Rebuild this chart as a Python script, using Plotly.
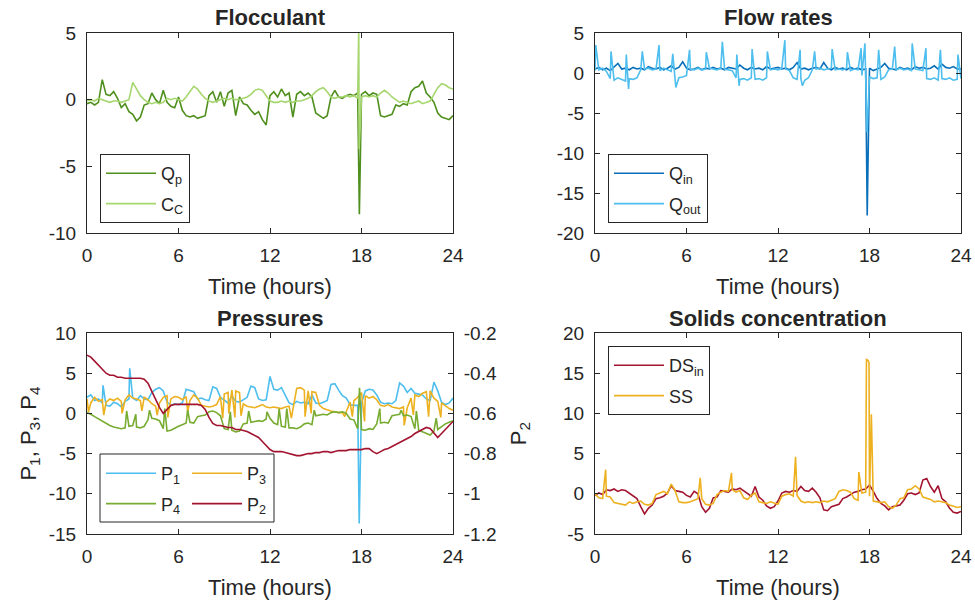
import plotly.graph_objects as go

# ---------------- data ----------------
STEP_H = 0.25
N_PTS = 97
time_h = [i * STEP_H for i in range(N_PTS)]

# Flocculant
qp = [-0.3, -0.2, -0.4, -0.2, 1.5, 0.4, 0.3, 0.6,
      0.1, -0.6, -0.3, -0.9, -1.1, -1.6, -1.3, -0.4,
      -0.3, 0.5, 0.0, -0.3, 0.7, -0.2, -0.5, -0.6,
      0.2, -0.8, -1.2, -1.3, -1.2, -1.4, -1.3, -1.2,
      0.3, 0.6, -0.2, 0.6, -0.5, 0.5, 0.7, -1.2,
      0.2, -0.3, -0.4, -0.8, -1.1, -0.9, -1.5, -1.9,
      0.3, 0.6, 0.2, 0.8, 0.3, 0.5, -1.3, 0.4,
      0.6, 0.3, 0.5, 0.2, -1.0, -1.2, -1.4, -1.2,
      0.2, 0.7, 0.2, 0.1, 0.3, 0.4, 0.3, 0.5,
      0.4, 0.6, 0.3, 0.5, 0.4, -1.2, -1.3, -1.2,
      -1.1, -0.4, -0.5, -0.3, -0.4, 0.6, 0.9, 1.0,
      1.4, 0.5, 0.2, -0.2, -1.0, -1.3, -1.4, -1.5,
      -1.2]
qp_spike_t = [17.86]
qp_spike_v = [-8.6]

cc = [-0.1, 0.0, -0.1, 0.1, 0.0, -0.1, -0.2, -0.1,
      -0.1, -0.2, -0.1, 0.0, 1.3, 0.8, 0.3, 0.0,
      -0.2, -0.3, -0.2, -0.3, -0.2, 0.1, 0.0, 0.1,
      0.0, -0.1, 0.2, 0.6, 1.0, 0.8, 0.4, 0.1,
      -0.1, -0.2, -0.1, 0.0, 0.1, 0.0, 0.1, 0.0,
      0.0, 0.1, 0.2, 0.4, 0.7, 0.8, 0.7, 0.3,
      -0.1, -0.2, -0.2, -0.1, -0.2, -0.1, -0.2, -0.1,
      -0.1, 0.0, 0.1, 0.3, 0.6, 0.8, 0.9, 0.6,
      0.2, 0.1, 0.2, 0.2, 0.3, 0.2, 0.3, 0.1,
      0.2, 0.3, 0.2, 0.3, 0.2, 0.5, 0.7, 0.5,
      0.2, 0.0, -0.2, -0.1, -0.2, -0.3, -0.2, -0.1,
      -0.3, -0.2, -0.1, 0.4, 0.9, 1.2, 1.1, 0.9,
      0.8]
cc_spike_t = [17.82, 17.845]
cc_spike_v = [5.5, -3.7]

# Flow rates
qin = [0.5, 0.7, 0.4, 0.6, 0.3, 0.8, 1.2, 0.5,
       0.6, 0.4, 0.7, 0.5, 0.6, 0.4, 0.8, 0.6,
       0.5, 0.7, 0.4, 0.6, 0.9, 0.5, 0.7, 1.4,
       0.6, 0.4, 0.5, 0.7, 0.4, 0.6, 0.5, 0.7,
       0.5, 0.6, 0.4, 0.7, 0.6, 0.5, 1.0, 0.6,
       0.4, 0.7, 0.5, 0.6, 0.4, 0.8, 0.5, 0.6,
       0.7, 0.5, 0.6, 0.4, 0.7, 1.3, 0.5, 0.6,
       0.4, 0.6, 0.7, 0.5, 1.3, 0.6, 0.4, 0.7,
       0.5, 0.6, 0.4, 0.7, 0.5, 0.6, 0.4, 0.5,
       0.6, 0.3, 0.5, 0.7, 1.2, 0.6, 0.5, 0.4,
       0.7, 0.5, 0.6, 0.4, 0.8, 0.6, 0.7, 0.5,
       0.6, 0.9, 0.5, 1.1, 0.7, 0.6, 0.8, 0.5,
       0.5]
qin_spike_t = [17.85]
qin_spike_v = [-17.8]

qout = [0.3, 0.4, 0.6, 0.2, -0.7, -0.9, -0.6, -0.8,
        -1.0, -0.7, -0.8, -0.6, 0.4, 0.5, 0.6, 0.4,
        0.5, 0.3, 0.6, 0.4, 0.2, -0.4, -0.6, -0.5,
        -0.3, 0.5, 0.4, 0.6, 0.4, 0.5, 0.6, 0.5,
        0.4, 0.6, 0.5, 0.4, 0.3, -0.6, -0.8, -0.7,
        -0.9, -0.6, -0.8, -0.7, -0.9, -0.6, 0.4, 0.5,
        0.4, 0.6, 0.5, 0.3, -0.6, -0.8, -0.7, -0.9,
        -0.6, 0.4, 0.5, 0.6, 0.4, 0.5, 0.6, 0.4,
        0.5, 0.4, 0.6, 0.3, 0.5, 0.4, -0.3, -0.6,
        -0.5, -0.7, -0.6, -0.8, -0.5, 0.4, 0.5, 0.4,
        0.6, 0.4, 0.5, 0.3, 0.5, 0.4, 0.3, -0.7,
        -0.8, -0.6, -0.9, -0.7, -0.8, -0.6, -0.9, -0.8,
        -0.7]
qout_spike_t = [0.05, 1.05, 2.05, 2.2, 3.1, 4.2, 5.1, 5.3, 6.2, 7.3,
                8.35, 9.3, 9.45, 10.3, 11.3, 12.45, 13.45, 13.6, 14.4, 15.55,
                16.55, 17.45, 17.7, 17.84, 18.6, 19.65, 20.8, 21.7, 22.65, 23.8]
qout_spike_v = [3.5, 2.7, 2.3, -2.0, 2.7, 3.5, 2.4, -1.8, 2.9, 2.6,
                3.9, 2.3, -1.6, 3.0, 2.7, 4.1, 2.9, -1.6, 2.7, 3.0,
                2.6, 3.1, 3.7, -7.4, 2.9, 3.3, 3.7, 3.1, 2.9, 2.3]

# Pressures
p1 = [2.0, 2.3, 1.6, 1.8, 1.3, 1.0, 0.9, 1.4,
      1.2, 0.8, 1.5, 1.8, 1.9, 1.6, 2.2, 1.8,
      1.7, 2.6, 3.0, 3.2, 2.8, 1.4, 1.0, 1.2,
      1.1, 1.3, 3.0, 2.8, 2.7, 1.8, 1.9, 1.7,
      1.6, 3.3, 3.1, 2.0, 1.6, 1.3, 2.2, 1.5,
      1.4, 1.7, 2.0, 3.4, 3.2, 1.8, 1.6, 1.7,
      4.6, 3.0, 2.9, 3.2, 2.2, 1.3, 1.1, 1.5,
      1.3, 1.4, 1.2, 2.3, 1.3, 1.2, 1.4, 1.6,
      3.6, 3.7, 2.9, 2.2, 1.9, 1.1, 1.0, 1.0,
      1.3, 2.8, 3.0, 2.9, 2.3, 1.4, 1.2, 1.3,
      1.2, 1.6, 3.8, 3.4, 2.6, 3.1, 2.5, 2.4,
      2.3, 1.8, 1.6, 3.9, 2.8, 1.4, 1.1, 1.3,
      1.9]
p1_spike_t = [1.05, 2.8, 17.85]
p1_spike_v = [3.5, 5.6, -13.7]

p3 = [1.8, 1.3, 2.0, 1.5, 1.7, 1.4, 1.8, 1.6,
      1.9, 1.5, 1.7, 2.3, 1.9, 1.8, 1.6, 2.0,
      1.7, 1.2, 0.9, 1.3, 2.0, 2.2, 1.8, 2.1,
      2.0, 1.7, 2.1, 1.6, 2.3, 1.9, 1.0, 0.9,
      0.8, 0.9, 1.1, 2.1, 2.4, 2.6, 2.9, 2.8,
      2.6, 1.2, 0.9, 0.8, 0.7, 0.9, 1.1, 0.8,
      0.7, 0.8, 0.7, 0.6, 0.8, 0.9, 0.6, 3.1,
      3.2, 2.9, 2.8, 2.7, 2.6, 1.0, 0.6, 0.4,
      0.3, 0.2, 0.1, 0.1, 0.2, 1.4, 1.6, 2.0,
      2.6, 2.2, 1.9, 2.1, 1.7, 1.0, 0.9, 1.1,
      0.8, 0.7, 0.6, 0.8, 0.7, 1.9, 2.3, 2.1,
      2.5, 2.7, 2.8, 1.9, 1.5, 1.3, 0.9, 0.6,
      0.4]
p3_spike_t = [0.1, 1.1, 2.3, 3.6, 4.6, 5.3, 6.6, 8.9, 9.3, 9.7, 10.1,
              13.4, 14.3, 14.7, 16.9, 17.4, 18.2, 20.8, 21.4, 22.4, 23.2]
p3_spike_v = [0.2, -0.2, 0.0, 0.3, -0.2, -0.5, 0.2, -0.6, 0.0, -0.5, -0.3,
              -0.6, -0.4, 0.0, -0.4, -0.4, -1.0, -1.5, -0.2, -0.4, -0.5]

p4 = [0.1, -0.1, -0.4, -0.7, -1.0, -1.3, -1.5, -1.7,
      -1.8, -1.9, -1.8, -1.6, -1.5, -1.7, -1.8, -1.6,
      -0.8, -0.6, -0.7, -0.9, -1.9, -2.2, -2.1, -1.8,
      -1.6, -1.4, -1.2, -1.1, -1.2, -0.4, -0.3, -0.2,
      0.2, 0.3, 0.1, -0.3, -1.9, -2.0, -2.1, -2.3,
      -2.2, -1.3, -1.2, -1.1, -1.0, -0.9, -1.0, -0.7,
      -0.6, -1.2, -1.4, -1.6, -1.7, -1.8, -1.8, -1.9,
      -1.7, -1.3, -1.2, -1.4, -0.3, -0.2, -0.1, -0.2,
      0.1, 0.2, 0.1, 0.2, 0.0, -0.7, -0.8, -1.9,
      -2.0, -2.1, -1.9, -2.0, -1.3, -1.2, -1.1, -1.2,
      -0.3, -0.2, -0.1, -0.3, -0.2, -0.4, -1.9, -2.1,
      -2.3, -2.5, -2.7, -2.2, -2.0, -1.6, -1.3, -1.1,
      -0.9]
p4_spike_t = [2.6, 3.2, 4.1, 5.1, 6.6, 9.4, 10.6, 11.8, 12.6, 13.1,
              14.9, 17.87, 19.2, 20.6, 21.6, 22.9]
p4_spike_v = [0.3, -0.1, 0.4, 0.6, 0.4, 0.2, 0.3, 0.2, 0.6, 0.6,
              0.4, 3.2, 0.6, 0.4, 0.3, -0.6]

p2 = [-0.31, -0.32, -0.34, -0.36, -0.38, -0.40, -0.41, -0.41,
      -0.42, -0.42, -0.425, -0.425, -0.425, -0.425, -0.425, -0.43,
      -0.45, -0.49, -0.53, -0.57, -0.60, -0.58, -0.56, -0.555,
      -0.555, -0.555, -0.555, -0.555, -0.555, -0.555, -0.56, -0.58,
      -0.62, -0.65, -0.66, -0.66, -0.665, -0.67, -0.67, -0.68,
      -0.68, -0.685, -0.69, -0.70, -0.71, -0.72, -0.74, -0.76,
      -0.78, -0.79, -0.79, -0.79, -0.795, -0.80, -0.805, -0.81,
      -0.81, -0.805, -0.80, -0.80, -0.795, -0.795, -0.79, -0.79,
      -0.795, -0.79, -0.785, -0.785, -0.785, -0.78, -0.78, -0.78,
      -0.78, -0.775, -0.775, -0.79, -0.80, -0.79, -0.78, -0.775,
      -0.765, -0.755, -0.745, -0.735, -0.725, -0.715, -0.70, -0.69,
      -0.68, -0.67, -0.675, -0.70, -0.72, -0.70, -0.68, -0.66,
      -0.64]

# Solids concentration
ds_in = [-0.2, 0.1, -0.1, 0.5, 0.4, 0.6, 0.3, 0.5,
         0.4, 0.1, -0.2, -0.6, -1.6, -2.5, -1.8, -1.4,
         -0.6, -0.5, -0.3, 0.1, 1.0, 0.4, 0.3, 0.2,
         -0.2, -0.4, 0.3, 0.0, -1.6, -2.3, -1.8, -0.5,
         -0.4, 0.4, 0.3, 0.2, 0.6, 0.5, 0.7, 0.4,
         0.1, -0.3, 0.9, -0.4, -0.8, -1.5, -1.8, -1.6,
         -0.9, 0.1, 0.3, 0.2, 0.4, 0.3, 0.9, 0.4,
         0.3, 0.7, 0.2, -0.5, -2.0, -2.1, -1.6, -1.4,
         -1.3, -0.6, -0.4, -0.1, 0.2, 0.3, 0.5, 0.6,
         1.1, 0.3, -0.6, -1.2, -1.5, -2.0, -1.6, -1.5,
         -1.4, -0.8, 0.0, 0.1, -0.1, 0.1, 1.7, 1.9,
         0.9, 0.2, 1.0, -0.6, -1.0, -1.8, -2.3, -2.4,
         -2.2]

ss = [0.0, -0.5, -0.6, -0.3, -0.4, -1.1, -1.2, -1.3,
      -1.4, -1.0, -1.2, -1.0, -0.9, -1.3, -1.4, -1.2,
      -0.1, 0.1, 0.3, 0.0, 1.2, 0.4, -1.0, -1.1,
      -1.1, -1.0, -0.8, -0.6, -0.6, -1.3, -1.4, -1.2,
      -0.1, 0.2, 0.4, 0.3, 0.5, 0.2, 0.4, -0.5,
      -0.7, -0.2, 0.1, -1.0, -1.1, -1.2, -1.0, -1.2,
      -1.3, -0.3, -0.1, 0.0, -0.3, -0.2, -0.9, -1.1,
      -1.0, -1.1, -1.0, -1.1, -0.9, -1.0, -0.8, -0.6,
      0.3, 0.5, 0.4, 0.2, -0.6, -0.8, 0.1, 0.2,
      -0.3, -0.9, -1.0, -1.1, -1.0, -1.6, -1.8, -1.4,
      -0.6, -0.5, 0.5, 0.6, 1.0, 0.6, -0.4, -0.6,
      -0.7, -1.0, -0.9, -1.0, -1.1, -1.4, -1.6, -1.7,
      -1.6]
ss_spike_t = [0.7, 6.9, 8.95, 13.15, 17.3, 17.8, 17.9, 17.97, 18.12]
ss_spike_v = [3.0, 2.0, 2.6, 4.6, 2.7, 16.7, 16.6, 16.3, 9.9]

x_ticks = [0, 6, 12, 18, 24]
x_tick_text = ["0", "6", "12", "18", "24"]

# ---------------- helpers ----------------
def with_spikes(base, st=(), sv=()):
    pts = sorted(list(zip(time_h, base)) + list(zip(st, sv)), key=lambda p: p[0])
    return [p[0] for p in pts], [p[1] for p in pts]

FONT = "Liberation Sans, Arial, Helvetica, sans-serif"
INK = "#262626"
W, H = 975, 602

C_QP = "#4E8F1D"
C_CC = "#A6D66E"
C_QIN = "#0A6FBA"
C_QOUT = "#4DBEEE"
C_P1 = "#4DBEEE"
C_P3 = "#EDB120"
C_P4 = "#77AC30"
C_P2 = "#A2142F"
C_DS = "#A2142F"
C_SS = "#EDB120"

LW = 1.6

fig = go.Figure()

def add(series_t, series_v, name, color, xa, ya, legend):
    fig.add_trace(go.Scatter(x=series_t, y=series_v, name=name, mode="lines",
                             line=dict(color=color, width=LW), legendgroup=name,
                             xaxis=xa, yaxis=ya, legend=legend))

x, y = with_spikes(qp, qp_spike_t, qp_spike_v)
add(x, y, "Q<sub>p</sub>", C_QP, "x", "y", "legend")
x, y = with_spikes(cc, cc_spike_t, cc_spike_v)
add(x, y, "C<sub>C</sub>", C_CC, "x", "y", "legend")

x, y = with_spikes(qin, qin_spike_t, qin_spike_v)
add(x, y, "Q<sub>in</sub>", C_QIN, "x2", "y2", "legend2")
x, y = with_spikes(qout, qout_spike_t, qout_spike_v)
add(x, y, "Q<sub>out</sub>", C_QOUT, "x2", "y2", "legend2")

x, y = with_spikes(p1, p1_spike_t, p1_spike_v)
add(x, y, "P<sub>1</sub>", C_P1, "x3", "y3", "legend3")
x, y = with_spikes(p3, p3_spike_t, p3_spike_v)
add(x, y, "P<sub>3</sub>", C_P3, "x3", "y3", "legend4")
x, y = with_spikes(p4, p4_spike_t, p4_spike_v)
add(x, y, "P<sub>4</sub>", C_P4, "x3", "y3", "legend3")
x, y = with_spikes(p2)
add(x, y, "P<sub>2</sub>", C_P2, "x3", "y5", "legend4")

x, y = with_spikes(ds_in)
add(x, y, "DS<sub>in</sub>", C_DS, "x4", "y4", "legend5")
x, y = with_spikes(ss, ss_spike_t, ss_spike_v)
add(x, y, "SS", C_SS, "x4", "y4", "legend5")

# ---------------- layout ----------------
def px_x(v):
    return v / W

def px_y(v):
    return 1 - v / H

dom_x_left = [px_x(87), px_x(453)]
dom_x_right = [px_x(595), px_x(961)]
dom_y_top = [px_y(233), px_y(33)]
dom_y_bot = [px_y(534), px_y(333)]

tick_font = dict(family=FONT, size=19, color=INK)
title_font = dict(family=FONT, size=22, color=INK)

def xaxis(domain, anchor):
    return dict(domain=domain, anchor=anchor, range=[0, 24], tickvals=x_ticks,
                ticktext=x_tick_text, ticks="inside", ticklen=5, tickcolor=INK,
                showline=True, linecolor=INK, linewidth=1, mirror="ticks",
                showgrid=False, zeroline=False, tickfont=tick_font,
                ticklabelstandoff=5, automargin=False,
                title=dict(text="Time (hours)", font=title_font, standoff=13))

def yaxis(domain, anchor, rng, vals, mirror="ticks"):
    return dict(domain=domain, anchor=anchor, range=rng, tickvals=vals,
                ticktext=[str(v) for v in vals], ticks="inside", ticklen=5,
                tickcolor=INK, showline=True, linecolor=INK, linewidth=1,
                mirror=mirror, showgrid=False, zeroline=False, tickfont=tick_font,
                ticklabelstandoff=6, automargin=False)

legend_common = dict(bgcolor="white", bordercolor=INK, borderwidth=1,
                     font=dict(family=FONT, size=18, color=INK),
                     xanchor="left", yanchor="top", itemwidth=50,
                     tracegroupgap=4)

p2_ticks = [-0.2, -0.4, -0.6, -0.8, -1.0, -1.2]
p2_tick_text = ["-0.2", "-0.4", "-0.6", "-0.8", "-1", "-1.2"]

layout = dict(
    template="none",
    width=W, height=H, margin=dict(l=0, r=0, t=0, b=0, autoexpand=False),
    paper_bgcolor="white", plot_bgcolor="white",
    font=dict(family=FONT, color=INK),
    showlegend=True,
    xaxis=xaxis(dom_x_left, "y"),
    yaxis=yaxis(dom_y_top, "x", [-10, 5], [5, 0, -5, -10]),
    xaxis2=xaxis(dom_x_right, "y2"),
    yaxis2=yaxis(dom_y_top, "x2", [-20, 5], [5, 0, -5, -10, -15, -20]),
    xaxis3=xaxis(dom_x_left, "y3"),
    yaxis3=dict(yaxis(dom_y_bot, "x3", [-15, 10], [10, 5, 0, -5, -10, -15], mirror=True),
                title=dict(text="P<sub>1</sub>, P<sub>3</sub>, P<sub>4</sub>",
                           font=title_font, standoff=6)),
    yaxis5=dict(overlaying="y3", anchor="x3", side="right", range=[-1.2, -0.2],
                tickvals=p2_ticks, ticktext=p2_tick_text, ticks="inside", ticklen=5,
                tickcolor=INK, showline=True, linecolor=INK, linewidth=1,
                showgrid=False, zeroline=False, tickfont=tick_font,
                ticklabelstandoff=6, automargin=False,
                title=dict(text="P<sub>2</sub>", font=title_font, standoff=14)),
    xaxis4=xaxis(dom_x_right, "y4"),
    yaxis4=yaxis(dom_y_bot, "x4", [-5, 20], [20, 15, 10, 5, 0, -5]),
    legend=dict(legend_common, x=px_x(100), y=px_y(154)),
    legend2=dict(legend_common, x=px_x(608), y=px_y(154)),
    legend3=dict(legend_common, x=px_x(101), y=px_y(455), bgcolor="rgba(0,0,0,0)",
                 borderwidth=0),
    legend4=dict(legend_common, x=px_x(187), y=px_y(455), bgcolor="rgba(0,0,0,0)",
                 borderwidth=0),
    legend5=dict(legend_common, x=px_x(608), y=px_y(346)),
    shapes=[dict(type="rect", xref="paper", yref="paper", x0=px_x(100), x1=px_x(274),
                 y0=px_y(522), y1=px_y(454), line=dict(color=INK, width=1),
                 fillcolor="white", layer="below")],
    annotations=[
        dict(text="<b>Flocculant</b>", x=(dom_x_left[0] + dom_x_left[1]) / 2, y=px_y(18),
             xref="paper", yref="paper", showarrow=False, font=title_font,
             xanchor="center", yanchor="middle"),
        dict(text="<b>Flow rates</b>", x=(dom_x_right[0] + dom_x_right[1]) / 2, y=px_y(18),
             xref="paper", yref="paper", showarrow=False, font=title_font,
             xanchor="center", yanchor="middle"),
        dict(text="<b>Pressures</b>", x=(dom_x_left[0] + dom_x_left[1]) / 2, y=px_y(318),
             xref="paper", yref="paper", showarrow=False, font=title_font,
             xanchor="center", yanchor="middle"),
        dict(text="<b>Solids concentration</b>", x=(dom_x_right[0] + dom_x_right[1]) / 2,
             y=px_y(318), xref="paper", yref="paper", showarrow=False, font=title_font,
             xanchor="center", yanchor="middle"),
    ],
)

fig.update_layout(**layout)
# remove the default page margin so the 975x602 figure fills the window exactly
fig.write_html("out.html",
               config={"displayModeBar": False},
               post_script="document.body.style.margin='0';"
                           "document.documentElement.style.overflow='hidden';")
